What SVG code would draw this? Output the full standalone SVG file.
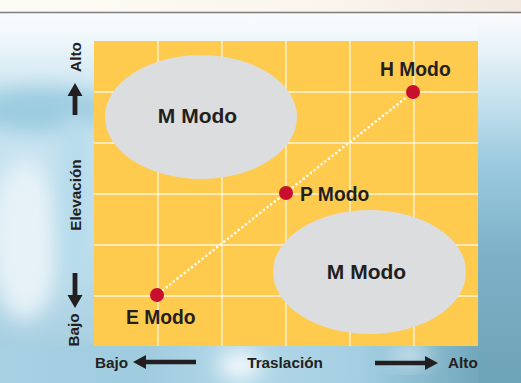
<svg xmlns="http://www.w3.org/2000/svg" width="521" height="383" viewBox="0 0 521 383">
  <defs>
    <linearGradient id="topbar" x1="0" y1="0" x2="1" y2="0">
      <stop offset="0" stop-color="#fdfbf6"/>
      <stop offset="0.6" stop-color="#faf6ee"/>
      <stop offset="1" stop-color="#f2e8df"/>
    </linearGradient>
    <linearGradient id="bg" x1="0" y1="0" x2="0" y2="1">
      <stop offset="0" stop-color="#fbfdfe"/>
      <stop offset="0.08" stop-color="#f4f9fc"/>
      <stop offset="0.25" stop-color="#c9e4f0"/>
      <stop offset="0.6" stop-color="#c4e1ee"/>
      <stop offset="1" stop-color="#9fcadd"/>
    </linearGradient>
    <linearGradient id="rightbg" x1="0" y1="0" x2="0" y2="1">
      <stop offset="0" stop-color="#fafcfd"/>
      <stop offset="0.1" stop-color="#e8f3f8"/>
      <stop offset="0.4" stop-color="#9ccbe0"/>
      <stop offset="0.65" stop-color="#7db1c7"/>
      <stop offset="1" stop-color="#6da3b7"/>
    </linearGradient>
    <linearGradient id="bottombg" x1="0" y1="0" x2="1" y2="0">
      <stop offset="0" stop-color="#a7d2e4"/>
      <stop offset="0.3" stop-color="#9fcbdf"/>
      <stop offset="0.5" stop-color="#b3d8e8"/>
      <stop offset="0.75" stop-color="#a4cfe2"/>
      <stop offset="1" stop-color="#72a8bc"/>
    </linearGradient>
    <filter id="blur" x="-50%" y="-50%" width="200%" height="200%">
      <feGaussianBlur stdDeviation="10"/>
    </filter>
    <style>
      .lbl { font-family: "Liberation Sans", Arial, sans-serif; font-weight: bold; fill: #231f20; }
      .big { font-size: 21px; text-anchor: middle; }
      .pt { font-size: 19.3px; }
      .axis { font-size: 15.3px; }
      .grid line { stroke: #fff5da; stroke-width: 1.3; }
      .dot { fill: #c8102e; }
      .oval { fill: #dcdddf; }
      .arrow { fill: #231f20; }
    </style>
  </defs>

  <!-- background -->
  <g id="background">
    <rect x="0" y="0" width="521" height="383" fill="url(#bg)"/>
    <ellipse cx="40" cy="110" rx="70" ry="22" fill="#9ccbe0" filter="url(#blur)"/>
    <ellipse cx="25" cy="240" rx="35" ry="80" fill="#e6f2f8" filter="url(#blur)"/>
    <ellipse cx="75" cy="200" rx="18" ry="90" fill="#b7dcec" filter="url(#blur)"/>
    <rect x="478" y="13" width="43" height="370" fill="url(#rightbg)"/>
    <rect x="0" y="346" width="478" height="37" fill="url(#bottombg)"/>
    <ellipse cx="240" cy="365" rx="22" ry="14" fill="#f4f9fc" filter="url(#blur)"/>
    <ellipse cx="410" cy="355" rx="20" ry="10" fill="#cfe7f2" filter="url(#blur)"/>
    <rect x="0" y="0" width="521" height="12" fill="url(#topbar)"/>
    <line x1="0" y1="12.5" x2="521" y2="12.5" stroke="#7d7d7d" stroke-width="1.5"/>
  </g>

  <!-- plot area -->
  <g id="plot">
    <rect x="94" y="41" width="384" height="305" fill="#fecb4f"/>
    <g class="grid">
      <line x1="158" y1="41" x2="158" y2="346"/>
      <line x1="222" y1="41" x2="222" y2="346"/>
      <line x1="286" y1="41" x2="286" y2="346"/>
      <line x1="350" y1="41" x2="350" y2="346"/>
      <line x1="414" y1="41" x2="414" y2="346"/>
      <line x1="94" y1="92" x2="478" y2="92"/>
      <line x1="94" y1="143" x2="478" y2="143"/>
      <line x1="94" y1="194" x2="478" y2="194"/>
      <line x1="94" y1="245" x2="478" y2="245"/>
      <line x1="94" y1="296" x2="478" y2="296"/>
    </g>
  </g>

  <g id="node-m-top">
    <ellipse class="oval" cx="201" cy="117" rx="96" ry="62"/>
    <text class="lbl big" x="197.5" y="123">M Modo</text>
  </g>

  <g id="node-m-bottom">
    <ellipse class="oval" cx="369.5" cy="272" rx="96.5" ry="62"/>
    <text class="lbl big" x="366.5" y="279">M Modo</text>
  </g>

  <g id="connectors">
    <line x1="163" y1="290" x2="408" y2="96" stroke="#ffffff" stroke-width="2.6" stroke-linecap="round" stroke-dasharray="0 4.6"/>
  </g>

  <g id="node-e">
    <circle class="dot" cx="157" cy="295" r="7"/>
    <text class="lbl pt" x="126" y="324">E Modo</text>
  </g>

  <g id="node-p">
    <circle class="dot" cx="286" cy="193" r="7"/>
    <text class="lbl pt" x="300" y="201">P Modo</text>
  </g>

  <g id="node-h">
    <circle class="dot" cx="413" cy="92" r="7"/>
    <text class="lbl pt" x="380" y="76">H Modo</text>
  </g>

  <!-- axes -->
  <g id="y-axis">
    <text class="lbl axis" text-anchor="middle" transform="translate(81,57) rotate(-90)">Alto</text>
    <path class="arrow" d="M72.6,115 V96 H67.5 L75,83 L82.5,96 H77.4 V115 Z"/>
    <text class="lbl axis" text-anchor="middle" transform="translate(81,195) rotate(-90)">Elevación</text>
    <path class="arrow" d="M72.6,273 V295 H67.5 L75,308 L82.5,295 H77.4 V273 Z"/>
    <text class="lbl axis" text-anchor="middle" transform="translate(79,330) rotate(-90)">Bajo</text>
  </g>

  <g id="x-axis">
    <text class="lbl axis" x="95" y="368">Bajo</text>
    <path class="arrow" d="M196,359.7 H146 V355 L133,362 L146,369 V364.3 H196 Z"/>
    <text class="lbl axis" text-anchor="middle" x="285" y="368">Traslación</text>
    <path class="arrow" d="M375,360.7 H425 V356 L438,363 L425,370 V365.3 H375 Z"/>
    <text class="lbl axis" x="448" y="368">Alto</text>
  </g>
</svg>
